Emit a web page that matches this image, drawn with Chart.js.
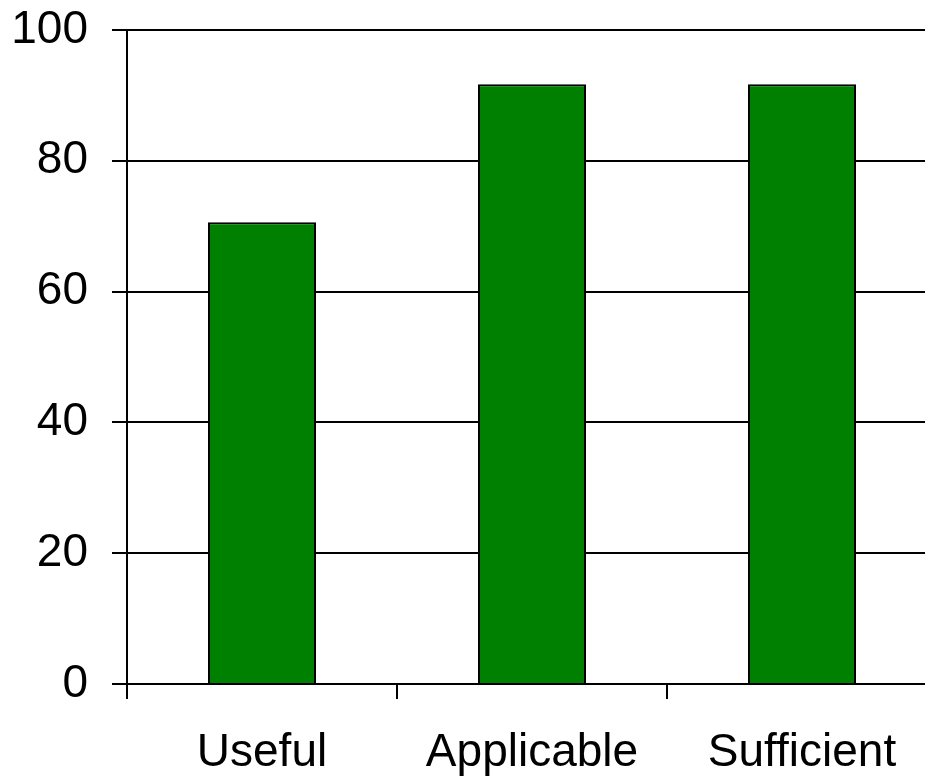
<!DOCTYPE html>
<html>
<head>
<meta charset="utf-8">
<script src="https://cdn.jsdelivr.net/npm/chart.js@4/dist/chart.umd.min.js"></script>
<style>
html,body{margin:0;padding:0;background:#fff;overflow:hidden;width:925px;height:777px;}
#c{display:block;}
</style>
</head>
<body>
<canvas id="c" width="937" height="777" style="width:937px;height:777px"></canvas>
<script>
const categories = ["Useful", "Applicable", "Sufficient"];
const values = [70.6, 91.7, 91.7];
const yTicks = [0, 20, 40, 60, 80, 100];

const font = { family: "'Liberation Sans', Arial, sans-serif", size: 46 };

new Chart(document.getElementById('c'), {
  type: 'bar',
  data: {
    labels: categories,
    datasets: [{
      data: values,
      backgroundColor: '#008000',
      borderColor: '#000',
      borderWidth: 2,
      borderSkipped: 'start',
      categoryPercentage: 1,
      barPercentage: 0.4
    }]
  },
  options: {
    responsive: false,
    devicePixelRatio: 1,
    animation: false,
    layout: { padding: { top: 30, right: 0, left: 0, bottom: 0 } },
    plugins: { legend: { display: false }, tooltip: { enabled: false } },
    scales: {
      x: {
        grid: { drawOnChartArea: false, drawTicks: true, tickLength: 15, color: '#000', lineWidth: 2, offset: true },
        border: { display: true, color: '#000', width: 2 },
        ticks: { color: '#000', font: font, padding: 27, maxRotation: 0, autoSkip: false },
        afterFit: s => { s.height = 93; s.paddingLeft = 0; s.paddingRight = 0; }
      },
      y: {
        min: 0, max: 100,
        afterBuildTicks: s => { s.ticks = yTicks.map(v => ({ value: v })); },
        grid: { drawOnChartArea: true, drawTicks: true, tickLength: 15, color: '#000', lineWidth: 2 },
        border: { display: true, color: '#000', width: 2 },
        ticks: { color: '#000', font: font, padding: 24 },
        afterFit: s => { s.width = 127; s.paddingTop = 0; s.paddingBottom = 0; }
      }
    }
  }
});
</script>
</body>
</html>
